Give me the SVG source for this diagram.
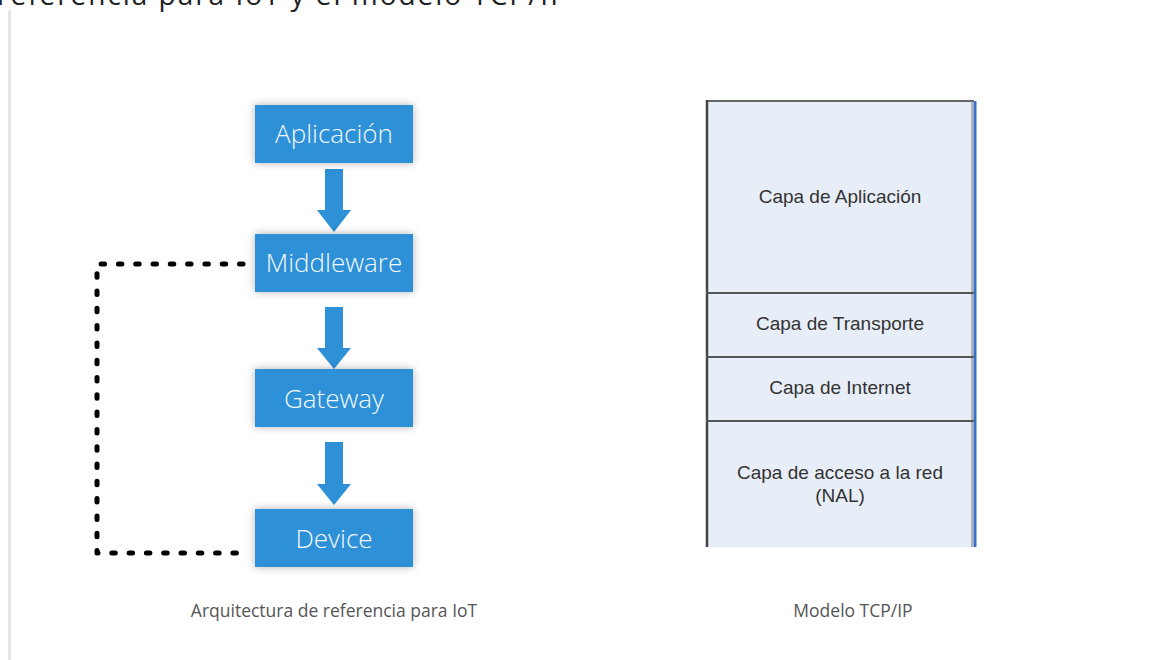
<svg xmlns="http://www.w3.org/2000/svg" width="1175" height="660" viewBox="0 0 1175 660">
  <defs>
    <filter id="shadow" x="-20%" y="-40%" width="140%" height="180%">
      <feDropShadow dx="0" dy="0" stdDeviation="4" flood-color="#000" flood-opacity="0.3"/>
    </filter>
  </defs>
  <style>
    .box { fill: #2e90d6; filter: url(#shadow); }
    .boxlabel { font-family: "Open Sans", "Liberation Sans", sans-serif; font-size: 26px; font-weight: 300; fill: #f2f8fd; text-anchor: middle; }
    .arrow { fill: #2e90d6; }
    .dotted { fill: none; stroke: #000; stroke-width: 5; stroke-dasharray: 3.5 13.8; stroke-linecap: round; stroke-linejoin: round; }
    .layer { fill: #e8eef8; }
    .divider { stroke: #555; stroke-width: 2; }
    .layertext { font-family: "Liberation Sans", Arial, sans-serif; font-size: 19px; fill: #333; text-anchor: middle; }
    .caption { font-family: "Open Sans", "Liberation Sans", sans-serif; font-size: 17.5px; fill: #555; text-anchor: middle; }
  </style>
  <rect width="1175" height="660" fill="#fff"/>
  <text x="-3" y="5" font-family="Open Sans, Liberation Sans, sans-serif" font-size="28" fill="#222" textLength="570">referencia para IoT y el modelo TCP/IP</text>
  <rect x="8" y="10" width="3" height="650" fill="#e5e7ea"/>

  <g id="connectors">
    <path class="dotted" d="M243,264 H97 V553 H245"/>
    <path class="arrow" d="M325,169 H343 V210 H351 L334,232 L317,210 H325 Z"/>
    <path class="arrow" d="M325,307 H343 V348 H351 L334,369 L317,348 H325 Z"/>
    <path class="arrow" d="M325,442 H343 V484 H351 L334,505 L317,484 H325 Z"/>
  </g>

  <g id="node-aplicacion">
    <rect class="box" x="255" y="105" width="158" height="58"/>
    <text class="boxlabel" x="334" y="143">Aplicación</text>
  </g>
  <g id="node-middleware">
    <rect class="box" x="255" y="234" width="158" height="58"/>
    <text class="boxlabel" x="334" y="272">Middleware</text>
  </g>
  <g id="node-gateway">
    <rect class="box" x="255" y="369" width="158" height="58"/>
    <text class="boxlabel" x="334" y="408">Gateway</text>
  </g>
  <g id="node-device">
    <rect class="box" x="255" y="509" width="158" height="58"/>
    <text class="boxlabel" x="334" y="548">Device</text>
  </g>

  <g id="tcpip-model">
    <rect class="layer" x="706" y="101" width="269" height="446"/>
    <line x1="706" y1="101" x2="974" y2="101" stroke="#666" stroke-width="2"/>
    <line x1="707" y1="100" x2="707" y2="547" stroke="#444" stroke-width="2.5"/>
    <line x1="972" y1="101" x2="972" y2="547" stroke="#777" stroke-width="1"/>
    <line x1="975" y1="101" x2="975" y2="547" stroke="#3b6fc2" stroke-width="3"/>
    <line class="divider" x1="706" y1="293" x2="974" y2="293"/>
    <line class="divider" x1="706" y1="357" x2="974" y2="357"/>
    <line class="divider" x1="706" y1="421" x2="974" y2="421"/>
  </g>
  <g id="layer-aplicacion">
    <text class="layertext" x="840" y="203">Capa de Aplicación</text>
  </g>
  <g id="layer-transporte">
    <text class="layertext" x="840" y="330">Capa de Transporte</text>
  </g>
  <g id="layer-internet">
    <text class="layertext" x="840" y="394">Capa de Internet</text>
  </g>
  <g id="layer-acceso">
    <text class="layertext" x="840" y="479">Capa de acceso a la red</text>
    <text class="layertext" x="840" y="502">(NAL)</text>
  </g>

  <g id="captions">
    <text class="caption" x="334" y="617">Arquitectura de referencia para IoT</text>
    <text class="caption" x="853" y="617">Modelo TCP/IP</text>
  </g>
</svg>
